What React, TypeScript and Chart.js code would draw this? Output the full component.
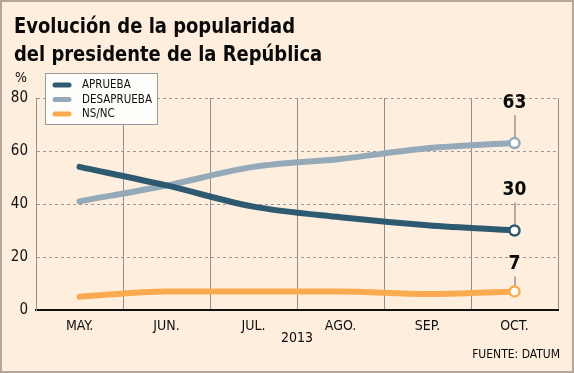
import React, { useEffect, useRef } from "react";
import { Chart, registerables } from "chart.js";

Chart.register(...registerables);

const titleLines = ["Evolución de la popularidad", "del presidente de la República"];
const months = ["MAY.", "JUN.", "JUL.", "AGO.", "SEP.", "OCT."];
const yearLabel = "2013";
const sourceLabel = "FUENTE: DATUM";
const unitLabel = "%";
const seriesNames = ["APRUEBA", "DESAPRUEBA", "NS/NC"];
const aprueba = [54, 47, 39, 35, 32, 30];
const desaprueba = [41, 47, 54, 57, 61, 63];
const nsnc = [5, 7, 7, 7, 6, 7];
const yTicks = [0, 20, 40, 60, 80];

const colors = ["#2d5a70", "#94aab8", "#fbab4f"];
const labelOffsets = [40, 40, 27];

const BG = "#fdeedd";
const COND = "'DejaVu Sans Condensed', 'DejaVu Sans', sans-serif";

function scaledText(c: CanvasRenderingContext2D, text: string, x: number, y: number, sx: number) {
  c.save();
  c.translate(x, y);
  c.scale(sx, 1);
  c.fillText(text, 0, 0);
  c.restore();
}

export default function App() {
  const ref = useRef<HTMLCanvasElement>(null);
  useEffect(() => {
    document.body.style.margin = "0";
    const canvas = ref.current!;
    const deco = {
      id: "deco",
      beforeDraw(chart: any) {
        const c = chart.ctx;
        c.save();
        c.fillStyle = BG;
        c.fillRect(0, 0, chart.width, chart.height);
        c.strokeStyle = "#b8a59a";
        c.lineWidth = 2;
        c.strokeRect(1, 1, chart.width - 2, chart.height - 2);
        // title
        c.fillStyle = "#0a0a0a";
        c.font = `bold 22px ${COND}`;
        c.textBaseline = "alphabetic";
        c.textAlign = "left";
        const tsx = 281 / c.measureText(titleLines[0]).width;
        scaledText(c, titleLines[0], 14, 33, tsx);
        scaledText(c, titleLines[1], 14, 61, tsx);
        // unit
        c.font = `14px ${COND}`;
        c.textAlign = "left";
        c.textBaseline = "middle";
        c.fillText(unitLabel, 15, 78);
        // year & source
        const xs = chart.scales.x;
        c.textAlign = "center";
        c.font = `14px ${COND}`;
        const xYear = (xs.getPixelForValue(2) + xs.getPixelForValue(3)) / 2;
        c.fillText(yearLabel, xYear, 338);
        c.font = `12px ${COND}`;
        c.textAlign = "right";
        c.fillText(sourceLabel, 560, 355);
        c.restore();
      },
      afterDatasetsDraw(chart: any) {
        const c = chart.ctx;
        c.save();
        chart.data.datasets.forEach((ds: any, i: number) => {
          const meta = chart.getDatasetMeta(i);
          const last = meta.data.length - 1;
          const pt = meta.data[last];
          const off = labelOffsets[i];
          c.strokeStyle = "#6b6b6b";
          c.lineWidth = 1;
          c.beginPath();
          c.moveTo(pt.x + 0.5, pt.y - off + 12);
          c.lineTo(pt.x + 0.5, pt.y - 6);
          c.stroke();
          c.fillStyle = "#0a0a0a";
          c.font = `bold 19px ${COND}`;
          c.textAlign = "center";
          c.textBaseline = "middle";
          c.fillText(String(ds.data[last]), pt.x, pt.y - off);
        });
        // legend
        const lx = 45, ly = 73, lw = 112, lh = 51;
        c.fillStyle = "#fffdfa";
        c.fillRect(lx, ly, lw, lh);
        c.strokeStyle = "#9a9a9a";
        c.lineWidth = 1;
        c.strokeRect(lx + 0.5, ly + 0.5, lw, lh);
        c.font = `12.5px ${COND}`;
        const lsx = 70 / c.measureText(seriesNames[1]).width;
        seriesNames.forEach((n, i) => {
          const y = 85 + i * 14.5;
          c.strokeStyle = colors[i];
          c.lineWidth = 5;
          c.lineCap = "round";
          c.beginPath();
          c.moveTo(55, y);
          c.lineTo(69, y);
          c.stroke();
          c.fillStyle = "#111";
          c.textAlign = "left";
          c.textBaseline = "middle";
          scaledText(c, n, 82, y, lsx);
        });
        c.restore();
      },
    };

    const series = [aprueba, desaprueba, nsnc];
    const chart = new Chart(canvas, {
      type: "line",
      data: {
        labels: months,
        datasets: series.map((d, i) => ({
          label: seriesNames[i],
          data: d,
          borderColor: colors[i],
          borderWidth: 6,
          borderCapStyle: "round",
          cubicInterpolationMode: "monotone",
          pointRadius: (ctx: any) => (ctx.dataIndex === d.length - 1 ? 5 : 0),
          pointBackgroundColor: "#ffffff",
          pointBorderColor: colors[i],
          pointBorderWidth: 2.5,
          pointHoverRadius: 0,
        })),
      },
      options: {
        responsive: false,
        animation: false,
        events: [],
        layout: { padding: { top: 98, right: 16, left: 0, bottom: 0 } },
        plugins: { legend: { display: false }, tooltip: { enabled: false } },
        scales: {
          x: {
            offset: true,
            afterFit: (s: any) => {
              s.height = 63;
            },
            grid: { offset: true, color: "#8f8f8f", lineWidth: 1, drawTicks: false },
            border: { color: "#111", width: 2 },
            ticks: { color: "#111", font: { family: COND, size: 14 }, padding: 8, maxRotation: 0 },
          },
          y: {
            min: 0,
            max: 80,
            afterFit: (s: any) => {
              s.width = 36;
            },
            afterBuildTicks: (s: any) => {
              s.ticks = yTicks.map((v) => ({ value: v }));
            },
            grid: { color: "#9a9a9a", lineWidth: 1, drawTicks: false },
            border: { color: "#8f8f8f", width: 1, dash: [3, 3] },
            ticks: { color: "#111", font: { family: COND, size: 15 }, padding: 8 },
          },
        },
      },
      plugins: [deco],
    } as any);
    return () => chart.destroy();
  }, []);
  return <canvas ref={ref} width={574} height={373} style={{ display: "block" }} />;
}
